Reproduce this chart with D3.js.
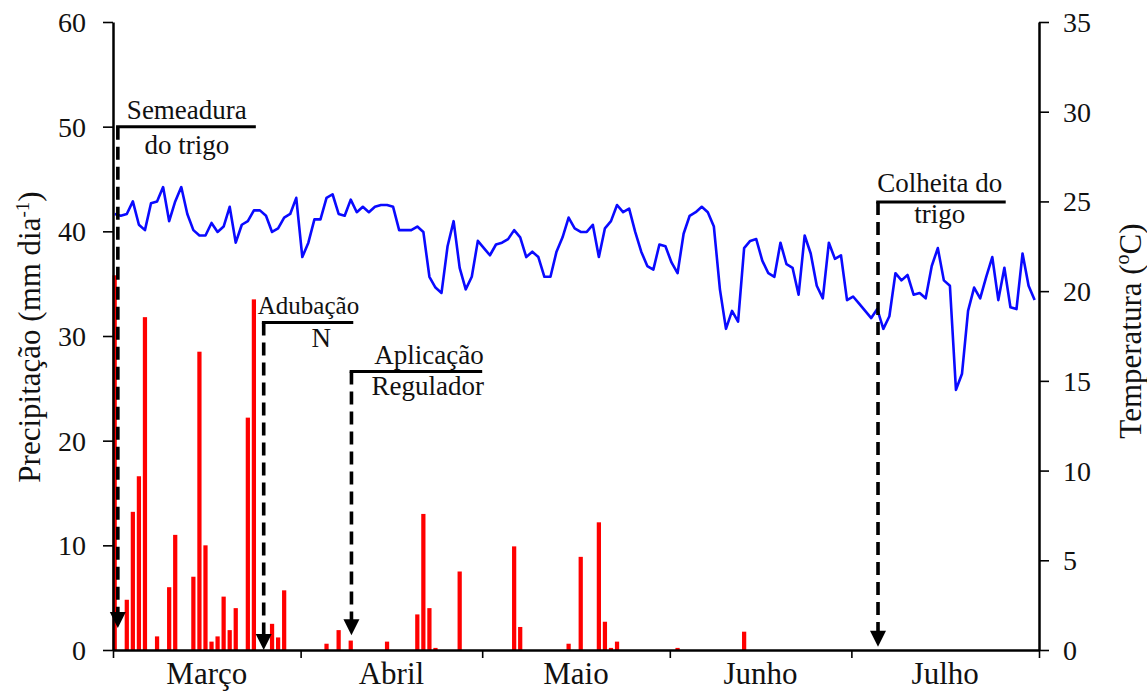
<!DOCTYPE html>
<html>
<head>
<meta charset="utf-8">
<script src="https://cdn.jsdelivr.net/npm/d3@7"></script>
<style>
  html, body { margin: 0; padding: 0; background: #fff; }
  svg { display: block; }
  text { font-family: "Liberation Serif", "Times New Roman", serif; fill: #111; }
</style>
</head>
<body>
<svg id="chart" width="1147" height="691"></svg>
<script>
// ---------------- DATA ----------------
const months = ["Março", "Abril", "Maio", "Junho", "Julho"];
const monthStartDays = [0, 31, 61, 92, 122, 153];   // day index of each month boundary
const precipTicks = [0, 10, 20, 30, 40, 50, 60];
const tempTicks = [0, 5, 10, 15, 20, 25, 30, 35];

// daily rainfall (mm dia-1): day index since 1 March and value
const rainDays   = [0, 2, 3, 4, 5, 7, 9, 10, 13, 14, 15, 16, 17, 18, 19, 20, 22, 23, 26, 27, 28,
                    35, 37, 39, 45, 50, 51, 52, 53, 57, 66, 67, 75, 77, 80, 81, 82, 83, 93, 104];
const rainValues = [35.8, 4.8, 13.2, 16.6, 31.8, 1.3, 6.0, 11.0, 7.0, 28.5, 10.0, 0.8, 1.3, 5.1, 1.9, 4.0, 22.2, 33.5, 2.5, 1.2, 5.7,
                    0.6, 1.9, 0.9, 0.8, 3.4, 13.0, 4.0, 0.2, 7.5, 9.9, 2.2, 0.6, 8.9, 12.2, 2.7, 0.2, 0.8, 0.2, 1.75];

// daily mean temperature (°C), 1 March .. 31 July
const temperature = [
  24.3, 24.2, 24.3, 25.0, 23.7, 23.4, 24.9, 25.0, 25.8, 23.9,
  25.0, 25.8, 24.3, 23.4, 23.1, 23.1, 23.8, 23.3, 23.6, 24.7,
  22.7, 23.7, 23.9, 24.5, 24.5, 24.2, 23.3, 23.5, 24.1, 24.3,
  25.2, 21.9, 22.7, 24.0, 24.0, 25.2, 25.4, 24.3, 24.2, 25.1,
  24.4, 24.7, 24.4, 24.7, 24.8, 24.8, 24.7, 23.4, 23.4, 23.4,
  23.6, 23.3, 20.8, 20.2, 19.9, 22.5, 23.9, 21.3, 20.1, 20.8,
  22.8, 22.4, 22.0, 22.6, 22.7, 22.9, 23.4, 23.0, 21.9, 22.2,
  21.9, 20.8, 20.8, 22.2, 23.0, 24.1, 23.5, 23.3, 23.3, 23.7,
  21.9, 23.5, 23.9, 24.8, 24.4, 24.6, 23.3, 22.2, 21.4, 21.2,
  22.6, 22.5, 21.6, 21.0, 23.2, 24.2, 24.4, 24.7, 24.4, 23.6,
  20.1, 17.9, 18.9, 18.3, 22.4, 22.8, 22.9, 21.7, 21.0, 20.8,
  22.7, 21.5, 21.3, 19.8, 23.1, 22.1, 20.3, 19.6, 22.7, 21.8,
  22.0, 19.5, 19.7, 19.3, 18.9, 18.5, 19.0, 17.9, 18.6, 21.0,
  20.6, 20.9, 19.8, 19.9, 19.6, 21.4, 22.4, 20.6, 20.3, 14.5,
  15.4, 18.9, 20.2, 19.6, 20.8, 21.9, 19.5, 21.3, 19.1, 19.0,
  22.1, 20.3, 19.5
];

// field operations: label lines, day position, top (precip units), arrow tip (precip units), bracket end day
const eventLabels = [["Semeadura", "do trigo"], ["Adubação", "N"], ["Aplicação", "Regulador"], ["Colheita do", "trigo"]];
const eventDays   = [0.8, 24.9, 39.4, 126.4];
const eventTops   = [50, 31.3, 26.6, 42.8];
const eventTips   = [2.1, 0, 1.4, 0.3];
const eventEnds   = [23.6, 39.7, 61, 147.5];

// ---------------- LAYOUT ----------------
// label centre (in days), baseline offsets (px) and font sizes for each annotation line
const labelTopCenter = [12.2, 32.3, 52.2, 136.6];
const labelBotCenter = [12.2, 34.4, 52.0, 136.6];
const labelTopDy = [-8, -8, -8, -10];
const labelBotDy = [27, 25, 23, 21];
const labelTopSize = [27, 25, 27, 27];

// ---------------- CHART ----------------
const svg = d3.select("#chart");
const mLeft = 113, mRight = 1039, mTop = 22, mBottom = 650;
const dayOffset = 0.28;

const x = d3.scaleLinear().domain([0, 153]).range([mLeft, mRight]);
const yL = d3.scaleLinear().domain([0, 60]).range([mBottom, mTop]);
const yR = d3.scaleLinear().domain([0, 35]).range([mBottom, mTop]);
const dayX = d => x(d + dayOffset);

// bars
const barW = x(0.7) - x(0);
svg.append("g").selectAll("rect")
  .data(rainDays.map((d, i) => ({ d, v: rainValues[i] })))
  .join("rect")
  .attr("x", p => dayX(p.d) - barW / 2)
  .attr("width", barW)
  .attr("y", p => yL(p.v))
  .attr("height", p => yL(0) - yL(p.v))
  .attr("fill", "#ff0000");

// temperature line
svg.append("path")
  .datum(temperature)
  .attr("fill", "none")
  .attr("stroke", "#0a0aff")
  .attr("stroke-width", 2.6)
  .attr("stroke-linejoin", "round")
  .attr("d", d3.line().x((v, i) => dayX(i)).y(v => yR(v)));

// axes
const fontTick = 28;
const axL = svg.append("g").attr("transform", `translate(${mLeft},0)`)
  .call(d3.axisLeft(yL).tickValues(precipTicks).tickSize(10).tickSizeOuter(0).tickPadding(17));
const axR = svg.append("g").attr("transform", `translate(${mRight},0)`)
  .call(d3.axisRight(yR).tickValues(tempTicks).tickSize(10).tickSizeOuter(0).tickPadding(14));
const axB = svg.append("g").attr("transform", `translate(0,${mBottom})`)
  .call(d3.axisBottom(x).tickValues(monthStartDays).tickSize(8).tickSizeOuter(0).tickFormat(""));
[axL, axR, axB].forEach(g => {
  g.select(".domain").attr("stroke", "#000").attr("stroke-width", 2.5);
  g.selectAll(".tick line").attr("stroke", "#000").attr("stroke-width", 1.6);
  g.selectAll(".tick text").attr("font-size", fontTick)
    .attr("font-family", "Liberation Serif, serif").attr("fill", "#111");
});
axL.selectAll(".tick text").attr("dy", "0.34em");
axR.selectAll(".tick text").attr("dy", "0.34em");

// month labels
svg.append("g").selectAll("text")
  .data(months)
  .join("text")
  .attr("x", (m, i) => x((monthStartDays[i] + monthStartDays[i + 1]) / 2))
  .attr("y", 684)
  .attr("text-anchor", "middle")
  .attr("font-size", 31)
  .text(m => m);

// axis titles
const tL = svg.append("text")
  .attr("transform", `translate(40,337) rotate(-90)`)
  .attr("text-anchor", "middle")
  .attr("font-size", 31);
tL.append("tspan").text("Precipitação (mm dia");
tL.append("tspan").attr("dy", -11).attr("font-size", 19).text("-1");
tL.append("tspan").attr("dy", 11).text(")");

const tR = svg.append("text")
  .attr("transform", `translate(1141,331) rotate(-90)`)
  .attr("text-anchor", "middle")
  .attr("font-size", 31);
tR.append("tspan").text("Temperatura (");
tR.append("tspan").attr("dy", -12).attr("font-size", 20).text("o");
tR.append("tspan").attr("dy", 12).text("C)");

// event annotations
const ev = svg.append("g");
eventDays.forEach((d, i) => {
  const ex = x(d), yTop = yL(eventTops[i]), tip = yL(eventTips[i]);
  const ah = 16, aw = 8;
  ev.append("line")
    .attr("x1", ex).attr("x2", ex)
    .attr("y1", yTop).attr("y2", tip - ah + 1)
    .attr("stroke", "#000").attr("stroke-width", 3.6)
    .attr("stroke-dasharray", "13,7");
  ev.append("path")
    .attr("d", `M${ex - aw},${tip - ah} L${ex + aw},${tip - ah} L${ex},${tip} Z`)
    .attr("fill", "#000");
  ev.append("line")
    .attr("x1", ex - 1.8).attr("x2", x(eventEnds[i]))
    .attr("y1", yTop).attr("y2", yTop)
    .attr("stroke", "#000").attr("stroke-width", 3);
  ev.append("text")
    .attr("x", x(labelTopCenter[i])).attr("y", yTop + labelTopDy[i])
    .attr("text-anchor", "middle").attr("font-size", labelTopSize[i])
    .text(eventLabels[i][0]);
  ev.append("text")
    .attr("x", x(labelBotCenter[i])).attr("y", yTop + labelBotDy[i])
    .attr("text-anchor", "middle").attr("font-size", 27)
    .text(eventLabels[i][1]);
});
</script>
</body>
</html>
